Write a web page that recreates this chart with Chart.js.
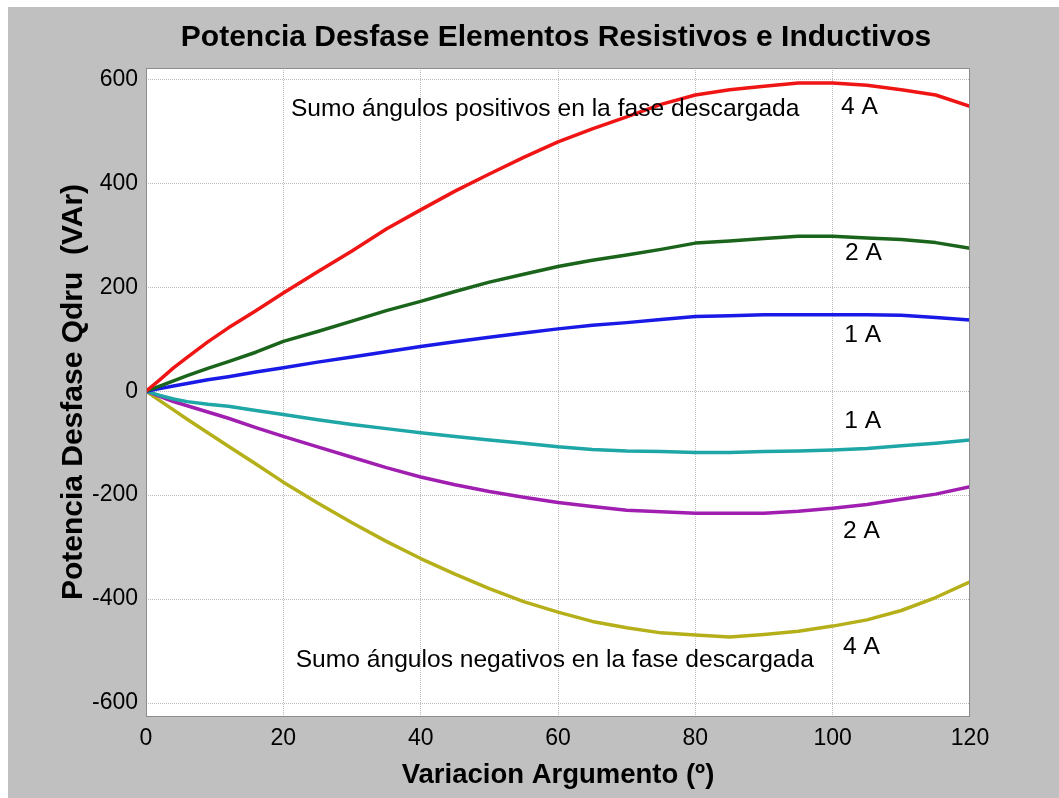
<!DOCTYPE html>
<html>
<head>
<meta charset="utf-8">
<title>Potencia Desfase Elementos Resistivos e Inductivos</title>
<script src="https://cdn.jsdelivr.net/npm/chart.js@4.4.0/dist/chart.umd.min.js"></script>
<style>
    html, body { margin: 0; padding: 0; background: #ffffff; }
    #wrap { position: absolute; left: 8px; top: 7px; width: 1051px; height: 791px; background: #c0c0c0; }
</style>
</head>
<body>
<div id="wrap"><canvas id="qdruChart" width="1051" height="791"></canvas></div>
<script>
'use strict';

// argument variation (degrees)
var angles = [0, 2, 4, 6, 9, 12, 16, 20, 25, 30, 35, 40, 45, 50, 55, 60, 65, 70, 75, 80, 85, 90, 95, 100, 105, 110, 115, 120];

// Qdru (VAr), positive angles added on the unloaded phase
var qPos4A = [0, 22, 45, 65, 95, 122, 155, 189, 230, 270, 312, 349, 385, 418, 450, 480, 505, 528, 552, 570, 580, 587, 593, 593, 589, 580, 570, 548];
var qPos2A = [0, 10, 20, 30, 44, 57, 75, 96, 115, 135, 155, 173, 192, 210, 225, 240, 252, 262, 273, 285, 289, 294, 298, 298, 295, 292, 286, 275];
var qPos1A = [0, 5, 10, 15, 22, 28, 37, 45, 56, 66, 76, 86, 95, 104, 112, 120, 127, 132, 138, 144, 145, 147, 147, 147, 147, 146, 142, 137];

// Qdru (VAr), negative angles
var qNeg1A = [0, -8, -15, -20, -25, -29, -37, -45, -55, -64, -72, -80, -87, -94, -100, -107, -112, -115, -116, -118, -118, -116, -115, -113, -110, -105, -100, -94];
var qNeg2A = [0, -10, -20, -28, -40, -52, -70, -87, -107, -127, -147, -165, -180, -193, -204, -214, -222, -229, -232, -235, -235, -235, -231, -225, -218, -208, -198, -184];
var qNeg4A = [0, -18, -36, -54, -80, -106, -140, -175, -215, -253, -289, -322, -352, -380, -405, -425, -443, -455, -465, -469, -473, -468, -462, -452, -440, -422, -397, -367];

var xTicks = [0, 20, 40, 60, 80, 100, 120];
var yTicks = [-600, -400, -200, 0, 200, 400, 600];

// text notes placed in data units
var noteTexts = ['Sumo ángulos positivos en la fase descargada', '4 A', '2 A', '1 A', '1 A', '2 A', '4 A', 'Sumo ángulos negativos en la fase descargada'];
var noteX = [21.1, 101.2, 101.8, 101.7, 101.7, 101.5, 101.5, 21.8];
var noteY = [542, 547, 266, 108, -58, -270, -492, -518];

function toPoints(values) {
    return values.map(function (v, i) { return { x: angles[i], y: v }; });
}

function line(label, values, color) {
    return {
        label: label,
        data: toPoints(values),
        borderColor: color,
        backgroundColor: color,
        borderWidth: 3.5,
        pointRadius: 0,
        tension: 0,
        borderJoinStyle: 'round'
    };
}

var plotFrame = {
    id: 'plotFrame',
    beforeDraw: function (chart) {
        var a = chart.chartArea, ctx = chart.ctx;
        ctx.save();
        ctx.fillStyle = '#ffffff';
        ctx.fillRect(a.left, a.top, a.right - a.left, a.bottom - a.top);
        ctx.restore();
    },
    afterDraw: function (chart) {
        var a = chart.chartArea, ctx = chart.ctx;
        var xs = chart.scales.x, ys = chart.scales.y;
        ctx.save();
        ctx.strokeStyle = '#8c8c8c';
        ctx.lineWidth = 1;
        ctx.strokeRect(a.left + 0.5, a.top + 0.5, a.right - a.left - 1, a.bottom - a.top);

        ctx.fillStyle = '#000000';
        ctx.font = 'bold 30px "Liberation Sans", Arial, sans-serif';
        ctx.textAlign = 'center';
        ctx.textBaseline = 'middle';
        ctx.fillText('Potencia Desfase Elementos Resistivos e Inductivos', (a.left + a.right) / 2 - 2, 31);

        ctx.font = '24.6px "Liberation Sans", Arial, sans-serif';
        ctx.textAlign = 'left';
        noteTexts.forEach(function (t, i) {
            ctx.fillText(t, xs.getPixelForValue(noteX[i]), ys.getPixelForValue(noteY[i]));
        });
        ctx.restore();
    }
};

function drawQdruChart() {
    var ctx = document.getElementById('qdruChart').getContext('2d');
    var tickFont = { family: '"Liberation Sans", Arial, sans-serif', size: 23 };

    new Chart(ctx, {
        type: 'line',
        data: {
            datasets: [
                line('4 A +', qPos4A, '#f01515'),
                line('2 A +', qPos2A, '#1b641b'),
                line('1 A +', qPos1A, '#1a1ae6'),
                line('1 A -', qNeg1A, '#1fa6a6'),
                line('2 A -', qNeg2A, '#a01fb0'),
                line('4 A -', qNeg4A, '#b5b01a')
            ]
        },
        plugins: [plotFrame],
        options: {
            responsive: false,
            animation: false,
            devicePixelRatio: 1,
            layout: { padding: { left: 0, right: 89, top: 61, bottom: 0 } },
            plugins: {
                legend: { display: false },
                tooltip: { enabled: false }
            },
            scales: {
                x: {
                    type: 'linear',
                    min: 0,
                    max: 120,
                    afterBuildTicks: function (scale) {
                        scale.ticks = xTicks.map(function (v) { return { value: v }; });
                    },
                    afterFit: function (scale) { scale.height = 82; },
                    grid: { color: '#bdbdbd', drawTicks: false },
                    border: { display: false, dash: [1, 1] },
                    ticks: { color: '#000000', font: tickFont, padding: 9, maxRotation: 0 },
                    title: {
                        display: true,
                        text: 'Variacion Argumento (º)',
                        color: '#000000',
                        font: { family: '"Liberation Sans", Arial, sans-serif', size: 27.5, weight: 'bold' },
                        padding: { top: 0, bottom: 6 }
                    }
                },
                y: {
                    type: 'linear',
                    min: -625,
                    max: 622,
                    afterBuildTicks: function (scale) {
                        scale.ticks = yTicks.map(function (v) { return { value: v }; });
                    },
                    afterFit: function (scale) { scale.width = 138; },
                    grid: { color: '#bdbdbd', drawTicks: false },
                    border: { display: false, dash: [1, 1] },
                    ticks: { color: '#000000', font: tickFont, padding: 8 },
                    title: {
                        display: true,
                        text: 'Potencia Desfase Qdru  (VAr)',
                        color: '#000000',
                        font: { family: '"Liberation Sans", Arial, sans-serif', size: 30, weight: 'bold' },
                        padding: { top: 48, bottom: 0 }
                    }
                }
            }
        }
    });
}

drawQdruChart();
</script>
</body>
</html>
